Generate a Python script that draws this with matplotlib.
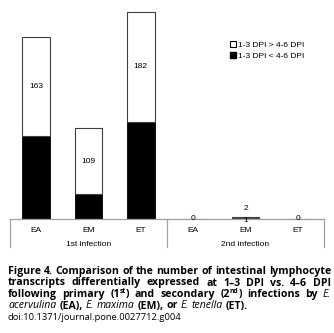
import matplotlib
matplotlib.use("Agg")
import matplotlib.pyplot as plt
import matplotlib.transforms as mtransforms
from matplotlib.patches import Patch

# dane
kategorie = ["EA", "EM", "ET", "EA", "EM", "ET"]
grupy = ["1st infection", "2nd infection"]
czarne = [137, 41, 160, 0, 1, 0]       # 1-3 DPI < 4-6 DPI
biale = [163, 109, 182, 0, 2, 0]       # 1-3 DPI > 4-6 DPI
etykiety_biale = ["163", "109", "182", "0", "2", "0"]
etykiety_czarne = ["", "", "", "", "1", ""]
legenda = ["1-3 DPI > 4-6 DPI", "1-3 DPI < 4-6 DPI"]

W, H = 334, 333
fig = plt.figure(figsize=(W / 100, H / 100), dpi=100)
plt.rcParams['font.family'] = ['Liberation Sans', 'DejaVu Sans']

# osie wykresu (w pikselach: x 10..324, os pozioma na y=219)
ax = fig.add_axes([10 / W, 1 - 219 / H, 314 / W, 219 / H])
x = list(range(len(kategorie)))
ax.bar(x, czarne, width=0.53, color="black", edgecolor="black", linewidth=0.6)
ax.bar(x, biale, width=0.53, bottom=czarne, color="white",
       edgecolor="#404040", linewidth=0.8)
ax.set_xlim(-0.5, 5.5)
ax.set_ylim(0, 361)

# etykiety danych
przes = [0, 0, 0, 0, 7, 0]
for i in x:
    ax.annotate(etykiety_biale[i], (i, czarne[i] + biale[i] / 2),
                xytext=(0, przes[i]), textcoords="offset points",
                ha="center", va="center", fontsize=6)
    if etykiety_czarne[i]:
        ax.annotate(etykiety_czarne[i], (i, czarne[i] / 2), xytext=(0, -1.5),
                    textcoords="offset points", ha="center", va="center",
                    fontsize=6)

for s in ["top", "right", "left"]:
    ax.spines[s].set_visible(False)
ax.spines["bottom"].set_color("#a0a0a0")
ax.spines["bottom"].set_linewidth(0.9)
ax.set_yticks([])
ax.set_xticks(x)
ax.set_xticklabels(kategorie, fontsize=6)
ax.tick_params(axis="x", length=0, pad=6)

# linie oddzielajace grupy
tr = mtransforms.blended_transform_factory(ax.transData, ax.transAxes)
for xs in [-0.5, 2.5, 5.5]:
    ax.plot([xs, xs], [0, -28 / 219], transform=tr, color="#a0a0a0",
            linewidth=0.9, clip_on=False)
for g, xc in zip(grupy, [1, 4]):
    ax.text(xc, -25 / 219, g, transform=tr, ha="center", va="center",
            fontsize=6)

# legenda
ax.legend(handles=[Patch(facecolor="white", edgecolor="black", linewidth=0.8),
                   Patch(facecolor="black", edgecolor="black")],
          labels=legenda, loc="upper left",
          bbox_to_anchor=(230 / W, 1 - 41 / H), bbox_transform=fig.transFigure,
          frameon=False, fontsize=6, handlelength=0.7, handleheight=0.7,
          handletextpad=0.3, labelspacing=0.35, borderpad=0, borderaxespad=0)

# podpis (wyjustowany); slowo = lista kawalkow (tekst, styl, indeks gorny)
B, I, R = "bold", "italic", "normal"
def sl(t, st=B):
    return [(t, st, False)]
linie = [
    ([sl("Figure"), sl("4."), sl("Comparison"), sl("of"), sl("the"),
      sl("number"), sl("of"), sl("intestinal"), sl("lymphocyte")], True),
    ([sl("transcripts"), sl("differentially"), sl("expressed"), sl("at"),
      sl("1–3"), sl("DPI"), sl("vs."), sl("4–6"), sl("DPI")], True),
    ([sl("following"), sl("primary"),
      [("(1", B, False), ("st", B, True), (")", B, False)], sl("and"),
      sl("secondary"),
      [("(2", B, False), ("nd", B, True), (")", B, False)], sl("infections"),
      sl("by"), sl("E.", I)], True),
    ([sl("acervulina", I), sl("(EA),"), sl("E.", I), sl("maxima", I),
      sl("(EM),"), sl("or"), sl("E.", I), sl("tenella", I), sl("(ET).")], False),
    ([sl("doi:10.1371/journal.pone.0027712.g004", R)], False),
]
baseline = [274, 285.5, 297, 308.5, 320]
skala = [1, 1, 1, 1, 0.9]
x0, x1 = 8, 331
r = fig.canvas.get_renderer()

def pisz(slowo, yb, fs):
    kaw = []
    for s, st, sup in slowo:
        t = fig.text(0, 1 - (yb - (3.8 if sup else 0)) / H, s,
                     fontsize=fs * (0.65 if sup else 1), family="Open Sans",
                     fontweight="bold" if st == B else "normal",
                     fontstyle="italic" if st == I else "normal",
                     va="baseline", ha="left")
        kaw.append(t)
    return kaw

# dobranie rozmiaru czcionki tak, by pierwsza linia miala ~3.5 px odstepow
proba = [pisz(s, 0, 7.0) for s in linie[0][0]]
suma7 = sum(t.get_window_extent(r).width for kaw in proba for t in kaw)
for kaw in proba:
    for t in kaw:
        t.remove()
fs = 7.0 * (x1 - x0 - 8 * 3.5) / suma7

for (slowa, just), yb, sk in zip(linie, baseline, skala):
    grupy_t = [pisz(s, yb, fs * sk) for s in slowa]
    szer = [[t.get_window_extent(r).width for t in kaw] for kaw in grupy_t]
    calk = [sum(s) for s in szer]
    if just and len(grupy_t) > 1:
        odst = (x1 - x0 - sum(calk)) / (len(grupy_t) - 1)
    else:
        odst = 3.0
    xp = x0
    for kaw, sz in zip(grupy_t, szer):
        for t, w in zip(kaw, sz):
            t.set_x(xp / W)
            xp += w
        xp += odst

fig.savefig("out.png", dpi=100)
